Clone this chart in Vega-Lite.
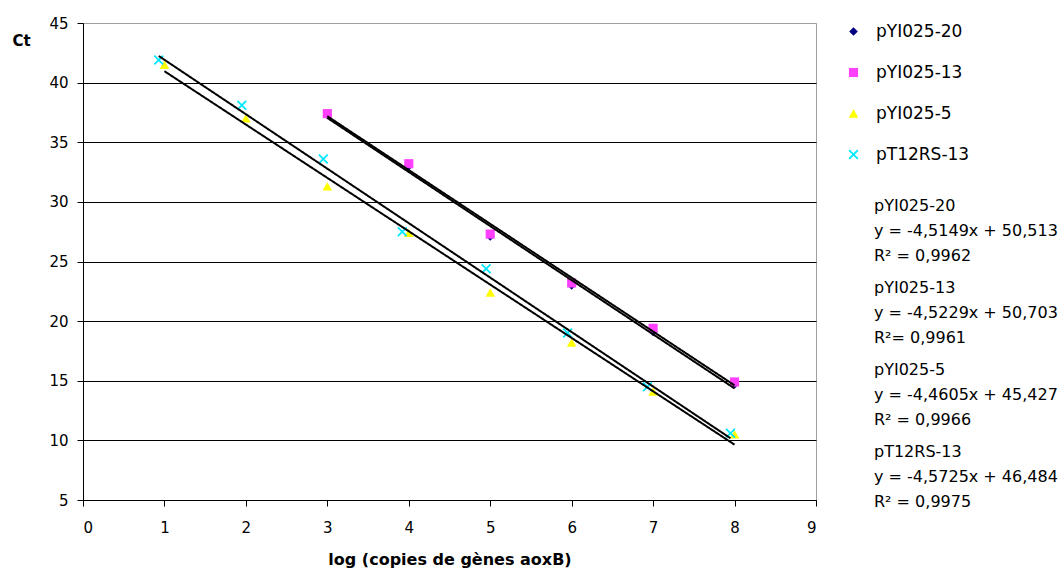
{
  "$schema": "https://vega.github.io/schema/vega-lite/v6.json",
  "width": 733,
  "height": 477,
  "autosize": {"type": "none"},
  "padding": {"left": 83, "top": 23, "right": 247, "bottom": 71},
  "background": "white",
  "config": {
    "font": "DejaVu Sans",
    "view": {"stroke": "#a0a0a0", "strokeWidth": 1},
    "style": {"guide-label": {"lineHeight": 25}},
    "axis": {
      "labelColor": "black",
      "labelFont": "DejaVu Sans",
      "labelFontSize": 15,
      "titleColor": "black",
      "titleFont": "DejaVu Sans",
      "titleFontWeight": "bold",
      "domainColor": "black",
      "domainWidth": 1,
      "tickColor": "black",
      "tickWidth": 1,
      "tickSize": 6
    },
    "legend": {"labelFont": "DejaVu Sans", "labelColor": "black"}
  },
  "data": {
    "values": [
      {"series": "pYI025-20", "x": 3, "y": 37.3},
      {"series": "pYI025-20", "x": 4, "y": 33.0},
      {"series": "pYI025-20", "x": 5, "y": 27.1},
      {"series": "pYI025-20", "x": 6, "y": 23.0},
      {"series": "pYI025-20", "x": 7, "y": 19.1},
      {"series": "pYI025-20", "x": 8, "y": 14.7},
      {"series": "pYI025-13", "x": 3, "y": 37.4},
      {"series": "pYI025-13", "x": 4, "y": 33.2},
      {"series": "pYI025-13", "x": 5, "y": 27.3},
      {"series": "pYI025-13", "x": 6, "y": 23.2},
      {"series": "pYI025-13", "x": 7, "y": 19.4},
      {"series": "pYI025-13", "x": 8, "y": 14.9},
      {"series": "pYI025-5", "x": 1, "y": 41.5},
      {"series": "pYI025-5", "x": 2, "y": 37.0},
      {"series": "pYI025-5", "x": 3, "y": 31.3},
      {"series": "pYI025-5", "x": 4, "y": 27.4},
      {"series": "pYI025-5", "x": 5, "y": 22.4},
      {"series": "pYI025-5", "x": 6, "y": 18.2},
      {"series": "pYI025-5", "x": 7, "y": 14.1},
      {"series": "pYI025-5", "x": 8, "y": 10.5},
      {"series": "pT12RS-13", "x": 0.93, "y": 41.9},
      {"series": "pT12RS-13", "x": 1.95, "y": 38.1},
      {"series": "pT12RS-13", "x": 2.95, "y": 33.6},
      {"series": "pT12RS-13", "x": 3.92, "y": 27.5},
      {"series": "pT12RS-13", "x": 4.95, "y": 24.4},
      {"series": "pT12RS-13", "x": 5.95, "y": 19.0},
      {"series": "pT12RS-13", "x": 6.93, "y": 14.5},
      {"series": "pT12RS-13", "x": 7.95, "y": 10.6}
    ]
  },
  "encoding": {
    "x": {
      "field": "x",
      "type": "quantitative",
      "scale": {"domain": [0, 9], "nice": false, "zero": false},
      "axis": {
        "values": [0, 1, 2, 3, 4, 5, 6, 7, 8, 9],
        "grid": false,
        "labelPadding": 14,
        "title": "log (copies de gènes aoxB)",
        "titleFontSize": 16,
        "titleBaseline": "middle",
        "titleY": 59
      }
    },
    "y": {
      "field": "y",
      "type": "quantitative",
      "scale": {"domain": [5, 45], "nice": false, "zero": false},
      "axis": {
        "values": [5, 10, 15, 20, 25, 30, 35, 40, 45],
        "grid": true,
        "gridColor": {"condition": {"test": "datum.value == 45", "value": "#a0a0a0"}, "value": "black"},
        "gridWidth": 1,
        "gridOpacity": 1,
        "labelPadding": 9,
        "title": "Ct",
        "titleAngle": 0,
        "titleAlign": "left",
        "titleBaseline": "middle",
        "titleX": -71,
        "titleY": 17,
        "titleFontSize": 15
      }
    }
  },
  "layer": [
    {
      "mark": {"type": "point", "filled": true, "opacity": 1, "strokeWidth": 0},
      "encoding": {
        "color": {
          "field": "series",
          "type": "nominal",
          "scale": {
            "domain": ["pYI025-20", "pYI025-13", "pYI025-5", "pT12RS-13"],
            "range": ["#000080", "#ff40ff", "#ffff00", "#00e8ff"]
          },
          "legend": {
            "orient": "right",
            "offset": 29,
            "padding": 0,
            "title": null,
            "labelFontSize": 17,
            "labelOffset": 14,
            "rowPadding": 23,
            "symbolStrokeWidth": 0,
            "labelLimit": 300
          }
        },
        "shape": {
          "field": "series",
          "type": "nominal",
          "scale": {
            "domain": ["pYI025-20", "pYI025-13", "pYI025-5", "pT12RS-13"],
            "range": ["diamond", "square", "triangle-up", "M-1,-0.75L-0.75,-1L0,-0.25L0.75,-1L1,-0.75L0.25,0L1,0.75L0.75,1L0,0.25L-0.75,1L-1,0.75L-0.25,0Z"]
          },
          "legend": {
            "orient": "right",
            "offset": 29,
            "padding": 0,
            "title": null,
            "labelFontSize": 17,
            "labelOffset": 14,
            "rowPadding": 23,
            "symbolStrokeWidth": 0,
            "labelLimit": 300
          }
        },
        "size": {
          "field": "series",
          "type": "nominal",
          "scale": {
            "domain": ["pYI025-20", "pYI025-13", "pYI025-5", "pT12RS-13"],
            "range": [75, 100, 140, 90]
          },
          "legend": {
            "orient": "right",
            "offset": 29,
            "padding": 0,
            "title": null,
            "labelFontSize": 17,
            "labelOffset": 14,
            "rowPadding": 23,
            "symbolStrokeWidth": 0,
            "labelLimit": 300
          }
        }
      }
    },
    {
      "transform": [{"regression": "y", "on": "x", "groupby": ["series"]}],
      "mark": {"type": "line", "color": "black", "strokeWidth": 2},
      "encoding": {
        "strokeDash": {
          "field": "series",
          "type": "nominal",
          "scale": {
            "domain": ["pYI025-20", "pYI025-13", "pYI025-5", "pT12RS-13"],
            "range": [[1, 0], [1, 0], [1, 0], [1, 0]]
          },
          "legend": {
            "orient": "none",
            "legendX": 775,
            "legendY": 167,
            "padding": 0,
            "title": null,
            "symbolSize": 0,
            "symbolOpacity": 0,
            "symbolStrokeWidth": 0,
            "labelOffset": 0,
            "labelFontSize": 16,
            "labelBaseline": "top",
            "labelLimit": 400,
            "rowPadding": 8,
            "labelExpr": "datum.label == 'pYI025-20' ? ['pYI025-20', 'y = -4,5149x + 50,513', 'R² = 0,9962'] : datum.label == 'pYI025-13' ? ['pYI025-13', 'y = -4,5229x + 50,703', 'R²= 0,9961'] : datum.label == 'pYI025-5' ? ['pYI025-5', 'y = -4,4605x + 45,427', 'R² = 0,9966'] : ['pT12RS-13', 'y = -4,5725x + 46,484', 'R² = 0,9975']"
          }
        }
      }
    }
  ]
}
